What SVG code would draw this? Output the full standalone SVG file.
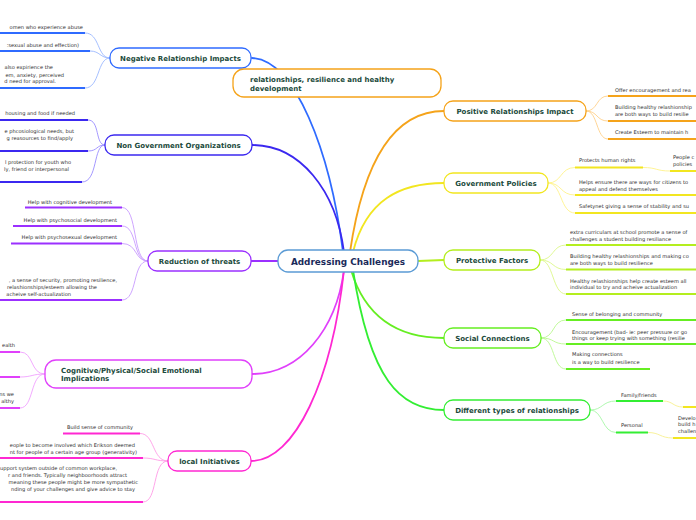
<svg xmlns="http://www.w3.org/2000/svg" width="696" height="520" viewBox="0 0 696 520">
<style>
.node{fill:#fff;stroke-width:1.3}
.mt{font-family:"DejaVu Sans",Verdana,sans-serif;font-weight:bold;font-size:7px;fill:#1b4a3b}
.st{font-family:"DejaVu Sans",Verdana,sans-serif;font-size:5.1px;fill:#2e2e2e}
.e{text-anchor:end}
.c{fill:none;stroke-width:1.8;stroke-linecap:round}
.u{fill:none;stroke-width:2}
.s{fill:none;stroke-width:0.9}
</style>
<rect width="696" height="520" fill="#fff"/>
<g id="connectors">
<path class="c" stroke="#2f6bff" d="M343,252 C330,150 295,60 252,58"/>
<path class="c" stroke="#3b28f0" d="M344,252 C336,190 300,145 252,145"/>
<path class="c" stroke="#9b30ff" d="M278,261 L251,261"/>
<path class="c" stroke="#e040fb" d="M344,270 C336,330 300,374 252,374"/>
<path class="c" stroke="#ff28d2" d="M344,270 C332,380 295,461 251,461"/>
<path class="c" stroke="#f5a31a" d="M350,252 C365,150 400,111 444,111"/>
<path class="c" stroke="#f2e620" d="M353,252 C366,200 400,183 444,183"/>
<path class="c" stroke="#b4ee1e" d="M418,261 L444,260"/>
<path class="c" stroke="#66ee22" d="M351,270 C366,320 400,338 444,338"/>
<path class="c" stroke="#33ee33" d="M353,270 C370,380 400,410 444,410"/>
<g stroke="#2f6bff"><path class="u" d="M0,33H85M0,51H90M0,88H85"/></g>
<g stroke="#9bb8ff"><path class="s" d="M85,33C100,33 97,58 110,58M90,51C100,51 100,58 110,58M85,88C100,88 97,58 110,58"/></g>
<g stroke="#3b28f0"><path class="u" d="M0,120H88M0,151H88M0,182H82"/></g>
<g stroke="#9a8cff"><path class="s" d="M88,120C100,120 95,145 105,145M88,151C98,151 96,145 105,145M82,182C98,182 93,145 105,145"/></g>
<g stroke="#9b30ff"><path class="u" d="M25,207.5H122M13,226H122M11,243.5H122M0,300H122"/></g>
<g stroke="#c89bff"><path class="s" d="M122,207.5C138,207.5 132,261 148,261M122,226C138,226 132,261 148,261M122,243.5C138,243.5 134,261 148,261M122,300C138,300 132,261 148,261"/></g>
<g stroke="#e040fb"><path class="u" d="M0,352H20M0,377H20M0,408H20"/></g>
<g stroke="#f0a0ff"><path class="s" d="M20,352C34,352 30,374 45,374M20,377C32,377 32,374 45,374M20,408C34,408 30,374 45,374"/></g>
<g stroke="#ff28d2"><path class="u" d="M63,433.5H140M0,458H143M0,502H143"/></g>
<g stroke="#ff9be6"><path class="s" d="M140,433.5C155,433.5 152,461 168,461M143,458C155,458 155,461 168,461M143,502C158,502 152,461 168,461"/></g>
<g stroke="#f5a31a"><path class="u" d="M608,96H696M608,121H696M608,139H696"/></g>
<g stroke="#ffd08a"><path class="s" d="M586,111C598,111 596,96 608,96M586,111C598,111 596,121 608,121M586,111C598,111 596,139 608,139"/></g>
<g stroke="#f2e620"><path class="u" d="M575,167.5H643M670,171H696M575,195H696M575,213H696"/></g>
<g stroke="#fff38a"><path class="s" d="M548,183C562,183 560,167.5 575,167.5M548,183C562,183 560,195 575,195M548,183C562,183 560,213 575,213M643,167.5C657,167.5 656,171 670,171"/></g>
<g stroke="#b4ee1e"><path class="u" d="M566,245H696M566,269.5H696M566,294H696"/></g>
<g stroke="#dcf78a"><path class="s" d="M540,260C554,260 552,245 566,245M540,260C554,260 552,269.5 566,269.5M540,260C554,260 552,294 566,294"/></g>
<g stroke="#66ee22"><path class="u" d="M566,320H696M566,344H696M566,369H650"/></g>
<g stroke="#b9f88f"><path class="s" d="M541,338C555,338 552,320 566,320M541,338C555,338 552,344 566,344M541,338C555,338 552,369 566,369"/></g>
<g stroke="#33ee33"><path class="u" d="M616,401H663M616,432.5H648"/></g>
<g stroke="#f2e620"><path class="u" d="M683,407H696M673,438H696"/></g>
<g stroke="#a6f7a6"><path class="s" d="M590,410C603,410 602,401 616,401M590,410C603,410 602,432.5 616,432.5"/></g>
<g stroke="#f7ef90"><path class="s" d="M663,401C673,401 673,407 683,407M648,432.5C660,432.5 660,438 673,438"/></g>
</g>

<g id="center">
<rect class="node" x="278" y="250" width="140" height="22" rx="10" stroke="#5b9bd5"/>
<text x="348" y="264.5" text-anchor="middle" font-family="DejaVu Sans,Verdana,sans-serif" font-weight="bold" font-size="8.9" fill="#1a2a5a">Addressing Challenges</text>
</g>

<g id="negative">
<rect class="node" x="110" y="48" width="141" height="20" rx="9" stroke="#2f6bff"/>
<text class="mt" x="180.5" y="60.5" text-anchor="middle">Negative Relationship Impacts</text>
<text class="st e" x="83" y="28.5">omen who experience abuse</text>
<text class="st e" x="79" y="46.5">:sexual abuse and effection)</text>
<text class="st e" x="53" y="69">also expirience the</text>
<text class="st e" x="64" y="76.5">em, anxiety, perceived</text>
<text class="st e" x="56" y="83">d need for approval.</text>
</g>

<g id="resilience">
<rect class="node" x="233" y="69" width="208" height="28" rx="11" stroke="#f5a31a"/>
<text class="mt" x="250" y="81.5">relationships, resilience and healthy</text>
<text class="mt" x="250" y="90.5">development</text>
</g>

<g id="ngo">
<rect class="node" x="105" y="135" width="147" height="20" rx="9" stroke="#3b28f0"/>
<text class="mt" x="178.5" y="147.5" text-anchor="middle">Non Government Organizations</text>
<text class="st e" x="75" y="115">housing and food if needed</text>
<text class="st e" x="74" y="133">e phcosiological needs, but</text>
<text class="st e" x="73" y="140">g reasources to find/apply</text>
<text class="st e" x="71" y="163.5">l protection for youth who</text>
<text class="st e" x="69" y="171">ly, friend or interpersonal</text>
</g>

<g id="reduction">
<rect class="node" x="148" y="251" width="103" height="20" rx="9" stroke="#9b30ff"/>
<text class="mt" x="199.5" y="263.5" text-anchor="middle">Reduction of threats</text>
<text class="st e" x="112" y="203.5">Help with cognitive development</text>
<text class="st e" x="117" y="221.5">Help with psychosocial development</text>
<text class="st e" x="117" y="239">Help with psychosexual development</text>
<text class="st e" x="117" y="281.5">, a sense of security, promoting resilience,</text>
<text class="st e" x="97" y="289">relashionships/esteem allowing the</text>
<text class="st e" x="71" y="296">acheive self-actualization</text>
</g>

<g id="cognitive">
<rect class="node" x="45" y="360" width="207" height="28" rx="11" stroke="#e040fb"/>
<text class="mt" x="61" y="372.5">Cognitive/Physical/Social Emotional</text>
<text class="mt" x="61" y="380.5">Implications</text>
<text class="st e" x="15" y="347">ealth</text>
<text class="st e" x="14" y="396">ns we</text>
<text class="st e" x="14" y="403">althy</text>
</g>

<g id="local">
<rect class="node" x="168" y="451" width="83" height="20" rx="9" stroke="#ff28d2"/>
<text class="mt" x="209.5" y="463.5" text-anchor="middle">local Initiatives</text>
<text class="st e" x="133" y="428.5">Build sense of community</text>
<text class="st e" x="135" y="446.5">eople to become involved which Erikson deemed</text>
<text class="st e" x="137" y="453.5">nt for people of a certain age group (generativity)</text>
<text class="st e" x="117" y="470">upport system outside of common workplace,</text>
<text class="st e" x="127" y="477">r and friends. Typically neighboorhoods attract</text>
<text class="st e" x="138" y="484">meaning these people might be more sympathetic</text>
<text class="st e" x="135" y="491">nding of your challenges and give advice to stay</text>
</g>

<g id="positive">
<rect class="node" x="444" y="101" width="142" height="20" rx="9" stroke="#f5a31a"/>
<text class="mt" x="515" y="113.5" text-anchor="middle">Positive Relationships Impact</text>
<text class="st" x="615" y="91.5">Offer encouragement and rea</text>
<text class="st" x="615" y="109">Building healthy relashionship</text>
<text class="st" x="615" y="116">are both ways to build resilie</text>
<text class="st" x="615" y="134">Create Esteem to maintain h</text>
</g>

<g id="government">
<rect class="node" x="444" y="173" width="104" height="20" rx="9" stroke="#f2e620"/>
<text class="mt" x="496" y="185.5" text-anchor="middle">Government Policies</text>
<text class="st" x="579" y="162">Protects human rights</text>
<text class="st" x="673" y="158.5">People c</text>
<text class="st" x="673" y="165.5">policies</text>
<text class="st" x="579" y="184">Helps ensure there are ways for citizens to</text>
<text class="st" x="579" y="190.5">appeal and defend themselves</text>
<text class="st" x="579" y="207.5">Safetynet giving a sense of stability and su</text>
</g>

<g id="protective">
<rect class="node" x="444" y="250" width="96" height="20" rx="9" stroke="#b4ee1e"/>
<text class="mt" x="492" y="262.5" text-anchor="middle">Protective Factors</text>
<text class="st" x="570" y="234">extra curriculars at school promote a sense of</text>
<text class="st" x="570" y="240.5">challenges a student building resiliance</text>
<text class="st" x="570" y="258">Building healthy relashionships and making co</text>
<text class="st" x="570" y="264.5">are both ways to build resilience</text>
<text class="st" x="570" y="282.5">Healthy relashionships help create esteem all</text>
<text class="st" x="570" y="289">individual to try and acheive actualization</text>
</g>

<g id="social">
<rect class="node" x="444" y="328" width="97" height="20" rx="9" stroke="#66ee22"/>
<text class="mt" x="492.5" y="340.5" text-anchor="middle">Social Connections</text>
<text class="st" x="572" y="315.5">Sense of belonging and community</text>
<text class="st" x="572" y="333.5">Encouragement (bad- ie: peer pressure or go</text>
<text class="st" x="572" y="339.5">things or keep trying with something (resilie</text>
<text class="st" x="572" y="356">Making connections</text>
<text class="st" x="572" y="363.5">is a way to build resilience</text>
</g>

<g id="different">
<rect class="node" x="444" y="400" width="146" height="20" rx="9" stroke="#33ee33"/>
<text class="mt" x="517" y="412.5" text-anchor="middle">Different types of relationships</text>
<text class="st" x="621" y="396.5">Family/friends</text>
<text class="st" x="621" y="427">Personal</text>
<text class="st" x="678" y="419.5">Develo</text>
<text class="st" x="678" y="426">build h</text>
<text class="st" x="678" y="433">challen</text>
</g>
</svg>
